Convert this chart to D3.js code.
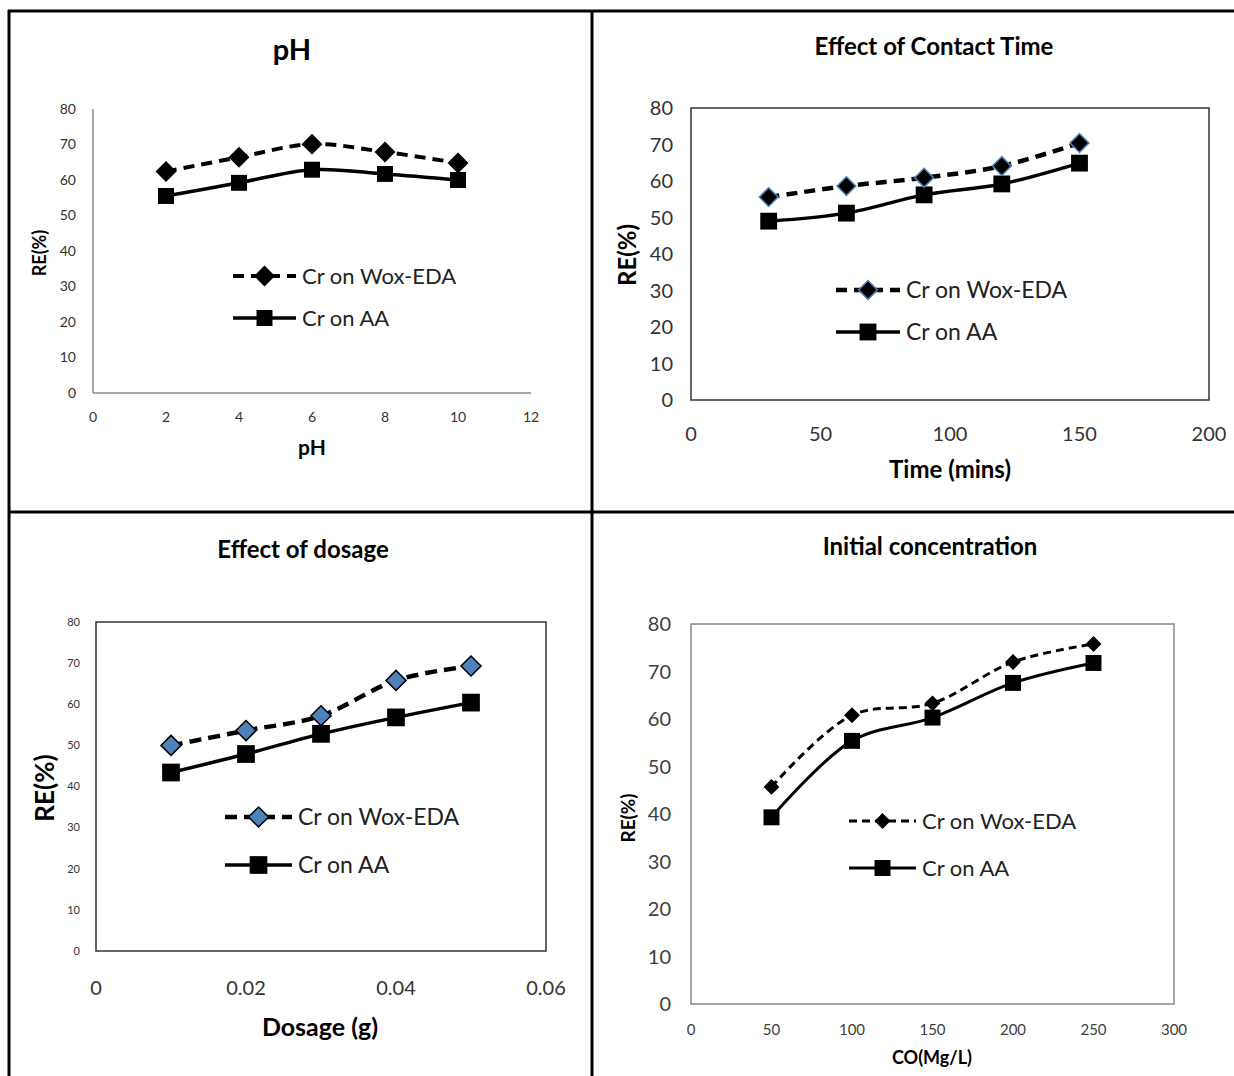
<!DOCTYPE html>
<html lang="en">
<head>
    <meta charset="UTF-8">
    <title>Cr removal efficiency</title>
    <script src="https://d3js.org/d3.v7.min.js"></script>
    <style>
        body { margin: 0; background: #fff; }
        svg { display: block; }
        .narrow { font-family: Lato, "Noto Sans", sans-serif; }
        .calib { font-family: Lato, "Noto Sans", sans-serif; }
        .bold { font-weight: bold; }
    </style>
</head>
<body>
    <div id="chart"></div>
    <script>
        // series names and tick values
        const seriesNames = ["Cr on Wox-EDA", "Cr on AA"];
        const yTicks = [0, 10, 20, 30, 40, 50, 60, 70, 80];

        // pH panel
        const phX = [2, 4, 6, 8, 10];
        const phWox = [62.4, 66.4, 70.1, 67.9, 64.8];
        const phAA = [55.5, 59.2, 62.9, 61.7, 60.0];
        const phTicks = [0, 2, 4, 6, 8, 10, 12];

        // contact time panel
        const timeX = [30, 60, 90, 120, 150];
        const timeWox = [55.6, 58.6, 60.9, 64.1, 70.4];
        const timeAA = [49.0, 51.2, 56.2, 59.2, 64.9];
        const timeTicks = [0, 50, 100, 150, 200];

        // dosage panel
        const doseX = [0.01, 0.02, 0.03, 0.04, 0.05];
        const doseWox = [50.0, 53.6, 57.2, 65.8, 69.3];
        const doseAA = [43.4, 47.9, 52.8, 56.8, 60.4];
        const doseTicks = [0, 0.02, 0.04, 0.06];

        // initial concentration panel
        const concX = [50, 100, 150, 200, 250];
        const concWox = [45.7, 60.8, 63.3, 72.0, 75.8];
        const concAA = [39.3, 55.4, 60.3, 67.6, 71.8];
        const concTicks = [0, 50, 100, 150, 200, 250, 300];

        const W = 1234, H = 1076;
        const svg = d3.select("#chart").append("svg")
            .attr("width", W).attr("height", H);

        // outer frame and dividers
        const frame = svg.append("g").attr("stroke", "#000").attr("stroke-width", 3);
        frame.append("line").attr("x1", 8).attr("x2", W).attr("y1", 11).attr("y2", 11);
        frame.append("line").attr("x1", 9).attr("x2", 9).attr("y1", 10).attr("y2", H);
        frame.append("line").attr("x1", 592).attr("x2", 592).attr("y1", 10).attr("y2", H);
        frame.append("line").attr("x1", 8).attr("x2", W).attr("y1", 512).attr("y2", 512);

        const diamond = d3.symbol().type(d3.symbolDiamond2);
        const square = d3.symbol().type(d3.symbolSquare2);

        function panel(p) {
            const g = svg.append("g");
            const x = d3.scaleLinear().domain(p.xDomain).range([p.left, p.right]);
            const y = d3.scaleLinear().domain([0, 80]).range([p.bottom, p.top]);

            // plot frame / axes
            if (p.box) {
                g.append("rect")
                    .attr("x", p.left).attr("y", p.top)
                    .attr("width", p.right - p.left).attr("height", p.bottom - p.top)
                    .attr("fill", "none").attr("stroke", p.boxColor).attr("stroke-width", 1.5);
            } else {
                g.append("line").attr("x1", p.left).attr("x2", p.left)
                    .attr("y1", p.top).attr("y2", p.bottom)
                    .attr("stroke", "#8a8a8a").attr("stroke-width", 1.5);
                g.append("line").attr("x1", p.left).attr("x2", p.right)
                    .attr("y1", p.bottom).attr("y2", p.bottom)
                    .attr("stroke", "#8a8a8a").attr("stroke-width", 1.5);
            }

            // y tick labels
            g.selectAll(".yt").data(yTicks).enter().append("text")
                .attr("class", p.tickFont)
                .attr("x", p.left - p.yTickGap)
                .attr("y", d => y(d))
                .attr("dy", "0.35em")
                .attr("text-anchor", "end")
                .attr("font-size", p.yTickSize)
                .attr("fill", p.tickColor)
                .text(d => d);

            // x tick labels
            g.selectAll(".xt").data(p.xTicks).enter().append("text")
                .attr("class", p.tickFont)
                .attr("x", d => x(d))
                .attr("y", p.xTickY)
                .attr("dy", "0.35em")
                .attr("text-anchor", "middle")
                .attr("font-size", p.xTickSize)
                .attr("fill", p.tickColor)
                .text(d => d);

            // titles
            g.append("text").attr("class", "calib bold")
                .attr("x", p.title[1]).attr("y", p.title[2]).attr("dy", "0.35em")
                .attr("text-anchor", "middle").attr("font-size", p.title[3])
                .text(p.title[0]);
            g.append("text").attr("class", "calib bold")
                .attr("x", p.xLabel[1]).attr("y", p.xLabel[2]).attr("dy", "0.35em")
                .attr("text-anchor", "middle").attr("font-size", p.xLabel[3])
                .text(p.xLabel[0]);
            g.append("text").attr("class", "calib bold")
                .attr("transform", "translate(" + p.yLabel[0] + "," + p.yLabel[1] + ") rotate(-90)")
                .attr("dy", "0.35em")
                .attr("text-anchor", "middle").attr("font-size", p.yLabel[2])
                .text("RE(%)");

            const line = d3.line()
                .x(d => x(d[0])).y(d => y(d[1]))
                .curve(d3.curveCatmullRom.alpha(0.5));

            const wox = p.xs.map((v, i) => [v, p.wox[i]]);
            const aa = p.xs.map((v, i) => [v, p.aa[i]]);

            g.append("path").datum(aa).attr("d", line)
                .attr("fill", "none").attr("stroke", "#000").attr("stroke-width", p.aaWidth);
            g.append("path").datum(wox).attr("d", line)
                .attr("fill", "none").attr("stroke", "#000")
                .attr("stroke-width", p.woxWidth).attr("stroke-dasharray", p.dash);

            g.selectAll(".sq").data(aa).enter().append("path")
                .attr("d", square.size(p.sqSize * p.sqSize))
                .attr("transform", d => "translate(" + x(d[0]) + "," + y(d[1]) + ")")
                .attr("fill", "#000");
            g.selectAll(".dm").data(wox).enter().append("path")
                .attr("d", diamond.size(p.dmSize * p.dmSize))
                .attr("transform", d => "translate(" + x(d[0]) + "," + y(d[1]) + ")")
                .attr("fill", p.dmFill).attr("stroke", p.dmStroke).attr("stroke-width", 1.5);

            // legend
            const L = p.legend;
            [0, 1].forEach(i => {
                const ly = L.y[i];
                const mid = (L.x0 + L.x1) / 2;
                g.append("line").attr("x1", L.x0).attr("x2", L.x1)
                    .attr("y1", ly).attr("y2", ly)
                    .attr("stroke", "#000")
                    .attr("stroke-width", i === 0 ? p.woxWidth : p.aaWidth)
                    .attr("stroke-dasharray", i === 0 ? p.dash : null);
                if (i === 0) {
                    g.append("path").attr("d", diamond.size(p.dmSize * p.dmSize))
                        .attr("transform", "translate(" + mid + "," + ly + ")")
                        .attr("fill", p.dmFill).attr("stroke", p.dmStroke).attr("stroke-width", 1.5);
                } else {
                    g.append("path").attr("d", square.size(p.sqSize * p.sqSize))
                        .attr("transform", "translate(" + mid + "," + ly + ")")
                        .attr("fill", "#000");
                }
                g.append("text").attr("class", L.font)
                    .attr("x", L.x1 + 6).attr("y", ly).attr("dy", "0.35em")
                    .attr("font-size", L.size).attr("fill", "#222")
                    .text(seriesNames[i]);
            });
        }

        panel({
            xDomain: [0, 12], left: 93, right: 531, top: 109, bottom: 393,
            box: false, xTicks: phTicks, xs: phX, wox: phWox, aa: phAA,
            tickFont: "narrow", tickColor: "#333", yTickSize: 14, xTickSize: 14,
            yTickGap: 17, xTickY: 417,
            title: ["pH", 292, 50, 29], xLabel: ["pH", 312, 448, 21], yLabel: [40, 253, 18],
            dash: "11,7", woxWidth: 4, aaWidth: 3.5,
            dmSize: 15, dmFill: "#000", dmStroke: "#000", sqSize: 18,
            legend: { x0: 233, x1: 296, y: [276, 318], size: 22, font: "narrow" }
        });

        panel({
            xDomain: [0, 200], left: 691, right: 1209, top: 108, bottom: 400,
            box: true, boxColor: "#333", xTicks: timeTicks, xs: timeX, wox: timeWox, aa: timeAA,
            tickFont: "narrow", tickColor: "#333", yTickSize: 20, xTickSize: 20,
            yTickGap: 18, xTickY: 434,
            title: ["Effect of Contact Time", 934, 47, 24], xLabel: ["Time (mins)", 950, 470, 24], yLabel: [628, 255, 24],
            dash: "11,7", woxWidth: 4.5, aaWidth: 3.5,
            dmSize: 15, dmFill: "#000", dmStroke: "#4f81bd", sqSize: 19,
            legend: { x0: 836, x1: 900, y: [290, 332], size: 23, font: "narrow" }
        });

        panel({
            xDomain: [0, 0.06], left: 96, right: 546, top: 622, bottom: 951,
            box: true, boxColor: "#333", xTicks: doseTicks, xs: doseX, wox: doseWox, aa: doseAA,
            tickFont: "calib", tickColor: "#333", yTickSize: 11, xTickSize: 20,
            yTickGap: 16, xTickY: 988,
            title: ["Effect of dosage", 303, 550, 24], xLabel: ["Dosage (g)", 320, 1027, 25], yLabel: [45, 788, 26],
            dash: "12,7", woxWidth: 4.5, aaWidth: 3.5,
            dmSize: 16, dmFill: "#4f81bd", dmStroke: "#000", sqSize: 20,
            legend: { x0: 225, x1: 292, y: [817, 865], size: 23, font: "calib" }
        });

        panel({
            xDomain: [0, 300], left: 691, right: 1174, top: 624, bottom: 1004,
            box: true, boxColor: "#888", xTicks: concTicks, xs: concX, wox: concWox, aa: concAA,
            tickFont: "calib", tickColor: "#404040", yTickSize: 20, xTickSize: 15,
            yTickGap: 20, xTickY: 1030,
            title: ["Initial concentration", 930, 547, 24], xLabel: ["CO(Mg/L)", 932, 1058, 18], yLabel: [628, 818, 19],
            dash: "8,5", woxWidth: 3, aaWidth: 3,
            dmSize: 11, dmFill: "#000", dmStroke: "#000", sqSize: 18,
            legend: { x0: 849, x1: 916, y: [821, 868], size: 22, font: "calib" }
        });
    </script>
</body>
</html>
